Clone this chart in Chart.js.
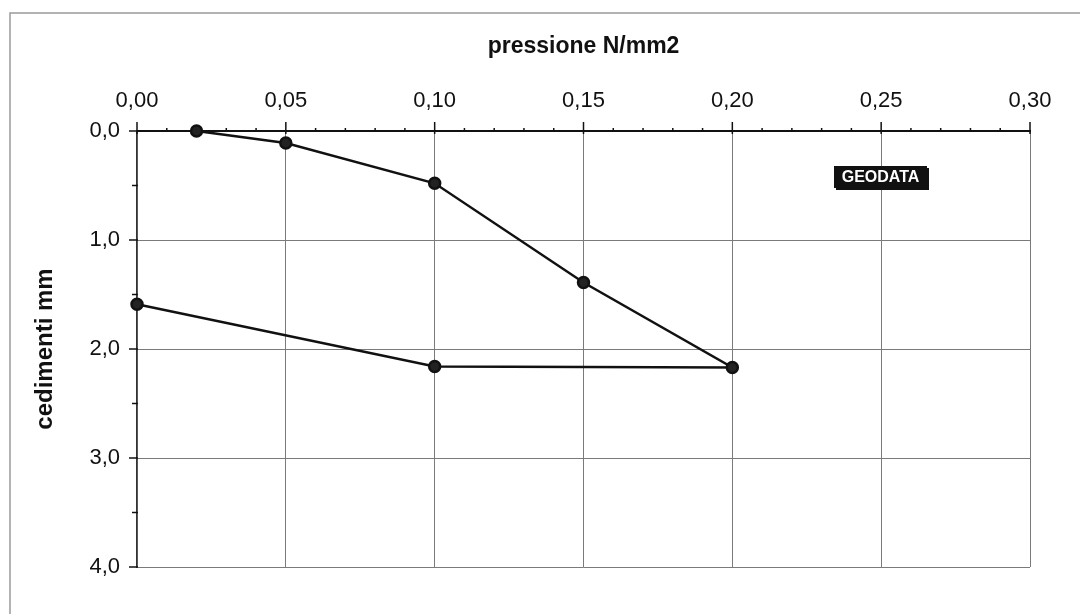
<!DOCTYPE html>
<html>
<head>
<meta charset="utf-8">
<script src="https://cdn.jsdelivr.net/npm/chart.js@4/dist/chart.umd.min.js"></script>
<style>
  html, body { margin: 0; padding: 0; background: #ffffff; }
  #wrap { width: 1080px; height: 614px; }
</style>
</head>
<body>
<div id="wrap"><canvas id="myChart" width="1080" height="614"></canvas></div>
<script>
// pressione (N/mm2) and cedimenti (mm), in loading order
const pressione = [0.02, 0.05, 0.10, 0.15, 0.20, 0.10, 0.00];
const cedimenti = [0.00, 0.11, 0.48, 1.39, 2.17, 2.16, 1.59];

const xTicks = [0, 0.05, 0.10, 0.15, 0.20, 0.25, 0.30];
const yTicks = [0, 1, 2, 3, 4];

const xTitle = 'pressione N/mm2';
const yTitle = 'cedimenti mm';
const logoText = 'GEODATA';

const FONT = "'Liberation Sans', Arial, sans-serif";

const comma = (v, d) => Number(v).toFixed(d).replace('.', ',');

// frame, minor ticks and the little logo
const extras = {
  id: 'extras',
  beforeDatasetsDraw(chart) {
    const ctx = chart.ctx;
    const x = chart.scales.x, y = chart.scales.y;
    const top = y.getPixelForValue(0);
    const left = x.getPixelForValue(0);
    ctx.save();

    // outer frame (top and left edge of the scanned sheet)
    ctx.strokeStyle = '#9a9a9a';
    ctx.lineWidth = 1.5;
    ctx.beginPath();
    ctx.moveTo(10, 614);
    ctx.lineTo(10, 13);
    ctx.lineTo(1080, 13);
    ctx.stroke();

    ctx.strokeStyle = '#111111';
    ctx.lineWidth = 1.5;
    // x ticks on the top axis
    for (let i = 0; i <= 30; i++) {
      const px = x.getPixelForValue(i / 100);
      const major = i % 5 === 0;
      ctx.beginPath();
      ctx.moveTo(px, top - (major ? 9 : 3));
      ctx.lineTo(px, top + (major ? 3 : 1));
      ctx.stroke();
    }
    // y ticks on the left axis
    for (let i = 0; i <= 8; i++) {
      const py = y.getPixelForValue(i / 2);
      const major = i % 2 === 0;
      ctx.beginPath();
      ctx.moveTo(left - (major ? 8 : 5), py);
      ctx.lineTo(left + 1, py);
      ctx.stroke();
    }

    // logo box
    const lx = 834, ly = 166, lw = 93, lh = 22;
    ctx.fillStyle = '#111111';
    ctx.fillRect(lx + 2, ly + 2, lw, lh);
    ctx.fillRect(lx, ly, lw, lh);
    ctx.fillStyle = '#ffffff';
    ctx.font = 'bold 16px ' + FONT;
    ctx.textAlign = 'center';
    ctx.textBaseline = 'middle';
    ctx.fillText(logoText, lx + lw / 2, ly + lh / 2 + 1);
    ctx.restore();
  }
};

const ctx = document.getElementById('myChart').getContext('2d');
const myChart = new Chart(ctx, {
  type: 'scatter',
  data: {
    datasets: [{
      label: 'cedimenti',
      data: pressione.map((p, i) => ({ x: p, y: cedimenti[i] })),
      showLine: true,
      clip: false,
      borderColor: '#111111',
      borderWidth: 2.5,
      backgroundColor: '#222222',
      pointBackgroundColor: '#222222',
      pointBorderColor: '#111111',
      pointRadius: 5.5,
      tension: 0
    }]
  },
  options: {
    responsive: false,
    animation: false,
    layout: { padding: { top: 0, left: 0, right: 50, bottom: 47 } },
    scales: {
      x: {
        type: 'linear',
        position: 'top',
        min: 0,
        max: 0.30,
        afterBuildTicks: s => { s.ticks = xTicks.map(v => ({ value: v })); },
        afterFit: s => { s.height = 131; },
        ticks: {
          padding: 17,
          color: '#111111',
          font: { family: FONT, size: 22 },
          callback: v => comma(v, 2)
        },
        grid: { color: '#7a7a7a', lineWidth: 1, drawTicks: false },
        border: { display: true, color: '#111111', width: 2 },
        title: {
          display: true,
          text: xTitle,
          color: '#111111',
          padding: { top: 33, bottom: 0 },
          font: { family: FONT, size: 23, weight: 'bold' }
        }
      },
      y: {
        type: 'linear',
        reverse: true,
        min: 0,
        max: 4,
        afterBuildTicks: s => { s.ticks = yTicks.map(v => ({ value: v })); },
        afterFit: s => { s.width = 137; },
        ticks: {
          padding: 17,
          color: '#111111',
          font: { family: FONT, size: 22 },
          callback: v => comma(v, 1)
        },
        grid: { color: '#7a7a7a', lineWidth: 1, drawTicks: false },
        border: { display: true, color: '#333333', width: 1.5 },
        title: {
          display: true,
          text: yTitle,
          color: '#111111',
          padding: { top: 31, bottom: 0 },
          font: { family: FONT, size: 24, weight: 'bold' }
        }
      }
    },
    plugins: {
      legend: { display: false },
      title: { display: false },
      tooltip: { enabled: false }
    }
  },
  plugins: [extras]
});
</script>
</body>
</html>
